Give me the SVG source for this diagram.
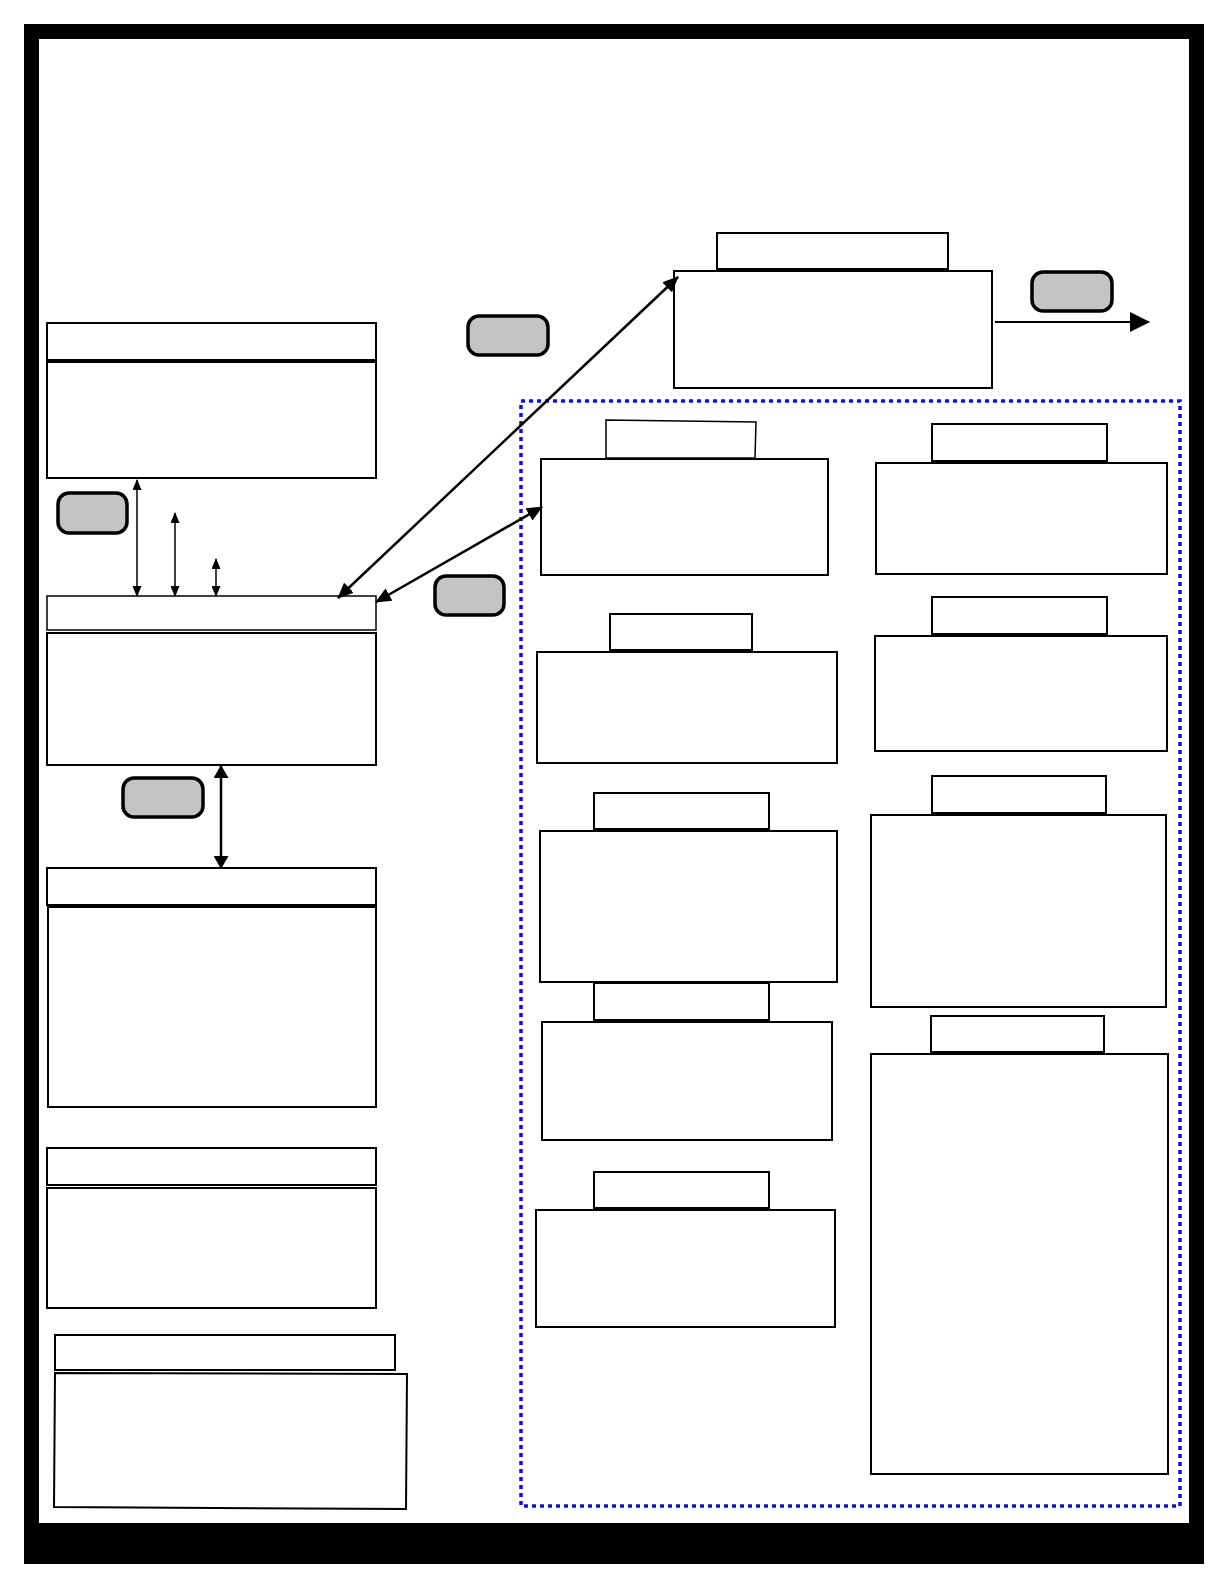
<svg xmlns="http://www.w3.org/2000/svg" width="1224" height="1584" viewBox="0 0 1224 1584">
  <style>
    .box { fill: #ffffff; stroke: #000000; stroke-width: 2; }
    .hdr { fill: #ffffff; stroke: #000000; stroke-width: 2; }
    .pill { fill: #c4c4c4; stroke: #000000; stroke-width: 3.5; }
    .conn { fill: none; stroke: #000000; }
    .group { fill: none; stroke: #1010d8; stroke-width: 3.5; stroke-dasharray: 4 4; }
  </style>
  <defs>
    <marker id="mBig" markerUnits="userSpaceOnUse" viewBox="0 0 16 14" refX="15" refY="7" markerWidth="16" markerHeight="14" orient="auto-start-reverse">
      <path d="M0,0 L16,7 L0,14 z" fill="#000"/>
    </marker>
    <marker id="mSmall" markerUnits="userSpaceOnUse" viewBox="0 0 11 9" refX="10" refY="4.5" markerWidth="11" markerHeight="9" orient="auto-start-reverse">
      <path d="M0,0 L11,4.5 L0,9 z" fill="#000"/>
    </marker>
    <marker id="mMid" markerUnits="userSpaceOnUse" viewBox="0 0 13 15" refX="12" refY="7.5" markerWidth="13" markerHeight="15" orient="auto-start-reverse">
      <path d="M0,0 L13,7.5 L0,15 z" fill="#000"/>
    </marker>
    <marker id="mRight" markerUnits="userSpaceOnUse" viewBox="0 0 20 20" refX="19" refY="10" markerWidth="20" markerHeight="20" orient="auto">
      <path d="M0,0 L20,10 L0,20 z" fill="#000"/>
    </marker>
  </defs>

  <rect x="0" y="0" width="1224" height="1584" fill="#ffffff"/>

  <!-- page frame -->
  <path id="frame" d="M24,24 H1204 V1564 H24 Z M39,39 V1523 H1189 V39 Z" fill="#000000" fill-rule="evenodd"/>

  <!-- dotted group -->
  <rect id="group-region" class="group" x="521" y="401" width="659" height="1105"/>

  <!-- top right node -->
  <g id="node-top">
    <rect class="hdr" x="717" y="233" width="231" height="36"/>
    <rect class="box" x="674" y="271" width="318" height="117"/>
  </g>

  <!-- left column -->
  <g id="node-left1">
    <rect class="hdr" x="47" y="323" width="329" height="37"/>
    <rect class="box" x="47" y="362" width="329" height="116"/>
  </g>
  <g id="node-left2">
    <rect class="hdr" x="47" y="596" width="329" height="34" style="stroke-width:1.5"/>
    <rect class="box" x="47" y="633" width="329" height="132"/>
  </g>
  <g id="node-left3">
    <rect class="hdr" x="47" y="868" width="329" height="37"/>
    <rect class="box" x="48" y="907" width="328" height="200"/>
  </g>
  <g id="node-left4">
    <rect class="hdr" x="47" y="1148" width="329" height="37"/>
    <rect class="box" x="47" y="1188" width="329" height="120"/>
  </g>
  <g id="node-left5">
    <rect class="hdr" x="55" y="1335" width="340" height="35"/>
    <polygon class="box" points="55,1373 407,1374 406,1509 54,1507"/>
  </g>

  <!-- right group, left column -->
  <g id="node-r1">
    <polygon class="hdr" points="606,420 756,422 755,458 606,458" style="stroke-width:1.5"/>
    <rect class="box" x="541" y="459" width="287" height="116"/>
  </g>
  <g id="node-r2">
    <rect class="hdr" x="610" y="614" width="142" height="36"/>
    <rect class="box" x="537" y="652" width="300" height="111"/>
  </g>
  <g id="node-r3">
    <rect class="hdr" x="594" y="793" width="175" height="36"/>
    <rect class="box" x="540" y="831" width="297" height="151"/>
  </g>
  <g id="node-r4">
    <rect class="hdr" x="594" y="983" width="175" height="37"/>
    <rect class="box" x="542" y="1022" width="290" height="118"/>
  </g>
  <g id="node-r5">
    <rect class="hdr" x="594" y="1172" width="175" height="36"/>
    <rect class="box" x="536" y="1210" width="299" height="117"/>
  </g>

  <!-- right group, right column -->
  <g id="node-l1">
    <rect class="hdr" x="932" y="424" width="175" height="37"/>
    <rect class="box" x="876" y="463" width="291" height="111"/>
  </g>
  <g id="node-l2">
    <rect class="hdr" x="932" y="597" width="175" height="37"/>
    <rect class="box" x="875" y="636" width="292" height="115"/>
  </g>
  <g id="node-l3">
    <rect class="hdr" x="932" y="776" width="174" height="37"/>
    <rect class="box" x="871" y="815" width="295" height="192"/>
  </g>
  <g id="node-l4">
    <rect class="hdr" x="931" y="1016" width="173" height="36"/>
    <rect class="box" x="871" y="1054" width="297" height="420"/>
  </g>

  <!-- gray label pills -->
  <g id="pill-1"><rect class="pill" x="1032" y="272" width="80" height="39" rx="11"/></g>
  <g id="pill-2"><rect class="pill" x="468" y="316" width="80" height="39" rx="11"/></g>
  <g id="pill-3"><rect class="pill" x="58" y="493" width="69" height="40" rx="11"/></g>
  <g id="pill-4"><rect class="pill" x="435" y="576" width="69" height="39" rx="11"/></g>
  <g id="pill-5"><rect class="pill" x="123" y="778" width="80" height="39" rx="11"/></g>

  <!-- connectors -->
  <g id="connectors">
    <line class="conn" x1="338" y1="598" x2="678" y2="277" stroke-width="2.5" marker-start="url(#mBig)" marker-end="url(#mBig)"/>
    <line class="conn" x1="376" y1="602" x2="542" y2="507" stroke-width="2.5" marker-start="url(#mBig)" marker-end="url(#mBig)"/>
    <line class="conn" x1="137" y1="480" x2="137" y2="596" stroke-width="1.5" marker-start="url(#mSmall)" marker-end="url(#mSmall)"/>
    <line class="conn" x1="175" y1="513" x2="175" y2="596" stroke-width="1.5" marker-start="url(#mSmall)" marker-end="url(#mSmall)"/>
    <line class="conn" x1="216" y1="559" x2="216" y2="596" stroke-width="1.5" marker-start="url(#mSmall)" marker-end="url(#mSmall)"/>
    <line class="conn" x1="221" y1="766" x2="221" y2="868" stroke-width="2.5" marker-start="url(#mMid)" marker-end="url(#mMid)"/>
    <line class="conn" x1="995" y1="322" x2="1149" y2="322" stroke-width="2" marker-end="url(#mRight)"/>
  </g>
</svg>
